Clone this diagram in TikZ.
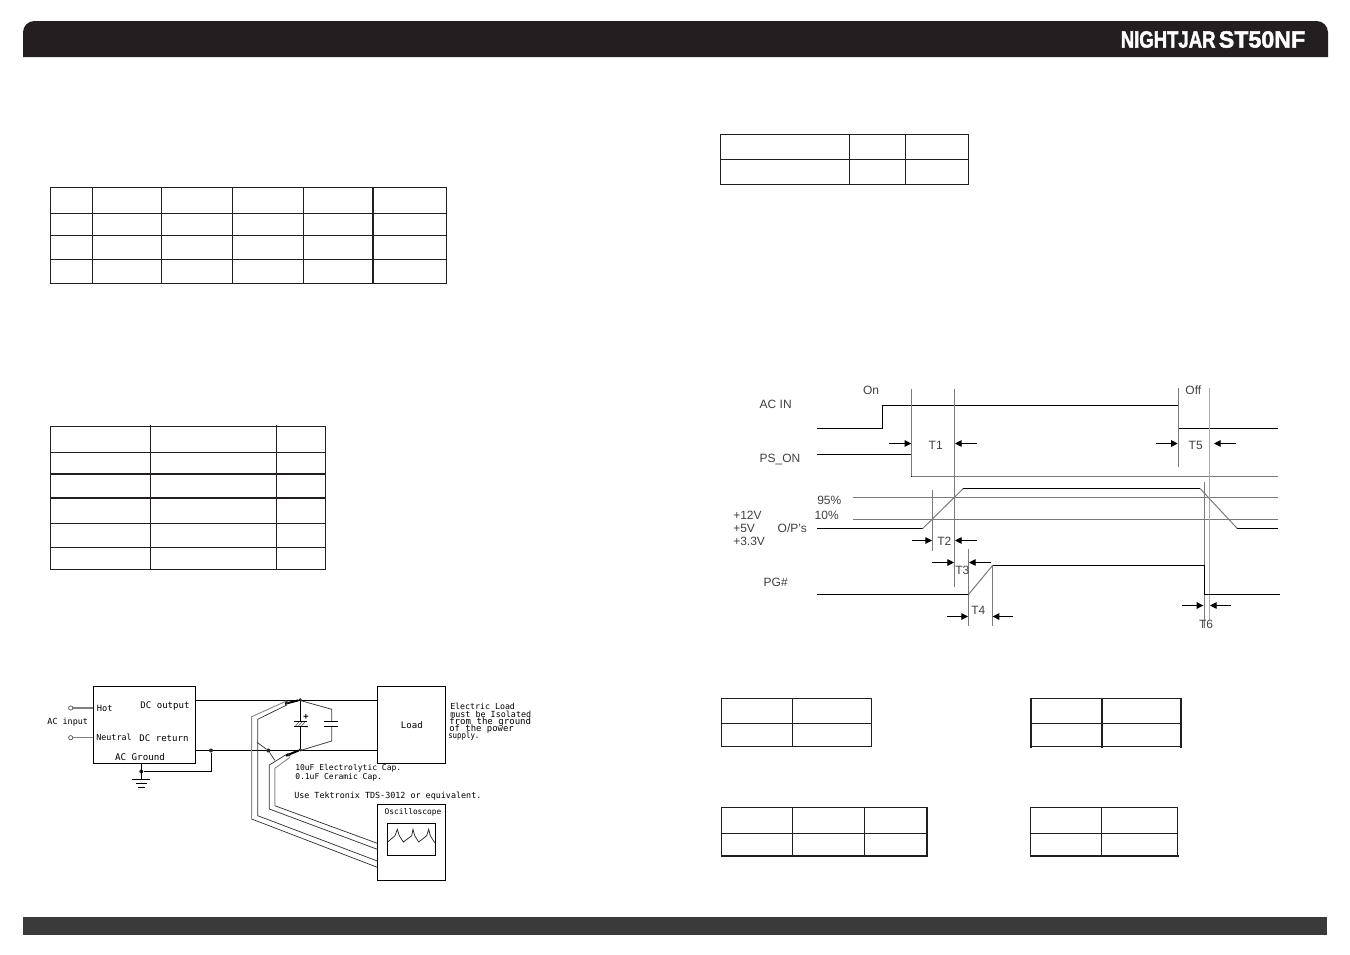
\documentclass[tikz,border=0pt]{standalone}
\usepackage{fontspec}
\setmainfont{Liberation Sans}
\newfontfamily\cadfont{DejaVu Sans Mono}
\newfontfamily\brandfont[BoldFeatures={FakeBold=2}]{Liberation Sans}
\usetikzlibrary{arrows.meta}
\definecolor{hdr}{HTML}{231F20}
\definecolor{ftr}{HTML}{3A3A3A}
\definecolor{grayline}{HTML}{7A7A7A}
\definecolor{lightline}{HTML}{ABABAB}
\newcommand{\cs}[1]{\cadfont\fontsize{#1}{7}\selectfont}
\tikzset{
  tbl/.style={draw=hdr,line width=0.9pt,line cap=rect},
  tblthick/.style={draw=hdr,line width=1.5pt,line cap=rect},
  cad/.style={font=\cs{6.3},inner sep=0pt,text=black},
  cadl/.style={cad,anchor=west},
  bx/.style={draw=black,line width=0.8pt,inner sep=0pt,anchor=north west},
  cw/.style={draw=black,line width=0.75pt},
  probe/.style={draw=black!80,line width=0.55pt},
  probeg/.style={draw=black!45,line width=0.7pt},
  dotn/.style={circle,fill=black!85,inner sep=0pt,minimum size=3pt},
  lbl/.style={font=\fontsize{9}{10}\selectfont,inner sep=0pt,text=black!75},
  sig/.style={draw=black,line width=0.9pt},
  sigg/.style={draw=grayline,line width=0.75pt},
  guide/.style={draw=grayline,line width=0.7pt},
  guidel/.style={draw=lightline,line width=0.8pt},
  tarrow/.style={draw=black,line width=0.7pt,-{Triangle[length=5pt,width=5pt]}},
  brand/.style={font=\brandfont\bfseries\fontsize{17.6}{18}\selectfont,text=white,inner sep=0pt}
}
\begin{document}
\begin{tikzpicture}[x=0.75pt,y=-0.75pt]
\useasboundingbox[fill=white] (0,0) rectangle (1350,954);
% header / footer
\fill[hdr] (23,57) [rounded corners=8.5pt] -- (23,21) -- (1328,21) [sharp corners] -- (1328,57) -- cycle;
\fill[ftr] (23,917) rectangle (1327,935);
\node[brand,anchor=west] (brandA) at (1120.5,39.5) {\scalebox{.79}[1]{NIGHTJAR}};
\node[brand,anchor=east] (brandB) at (1305.5,39.5) {\scalebox{.99}[1]{ST50NF}};
% table 1
\draw[tbl] (50.5,187.5) rectangle (446.5,283.5);
\foreach \x in {92.5,161.5,232.5,303.5} \draw[tbl] (\x,187.5) -- (\x,283.5);
\foreach \y in {213.5,235.5,259.5} \draw[tbl] (50.5,\y) -- (446.5,\y);
\draw[tblthick,line cap=butt] (373,187.5) -- (373,283.5);
% table 2
\draw[tbl] (50.5,426.5) rectangle (325.5,569.5);
\foreach \x in {150.5,276.5} \draw[tbl] (\x,426) -- (\x,569.5);
\foreach \y in {452.5,523.5,547.5} \draw[tbl] (50.5,\y) -- (325.5,\y);
\foreach \y in {474,498} \draw[tblthick,line cap=butt] (50.5,\y) -- (325.5,\y);
% table 3
\draw[tbl] (720.5,134.5) rectangle (968.5,184.5);
\foreach \x in {849.5,905.5} \draw[tbl] (\x,134.5) -- (\x,184.5);
\draw[tbl] (720.5,159.5) -- (968.5,159.5);
% table 4
\draw[tbl] (721.5,698.5) rectangle (871.5,746.5);
\draw[tbl] (792.5,698.5) -- (792.5,746.5);
\draw[tbl] (721.5,723.5) -- (871.5,723.5);
% table 5
\draw[tbl] (721.5,807.5) -- (927,807.5);
\draw[tbl] (721.5,807.5) -- (721.5,855.5);
\foreach \x in {792.5,864.5} \draw[tbl] (\x,807.5) -- (\x,855.5);
\draw[tbl] (721.5,833.5) -- (927,833.5);
\draw[tblthick] (721.5,856) -- (927,856);
\draw[tblthick] (927,807.5) -- (927,856);
% table 6
\draw[tbl] (1031,698.5) -- (1181,698.5);
\draw[tbl] (1031,723.5) -- (1181,723.5);
\draw[tbl] (1031,746.5) -- (1181,746.5);
\draw[tblthick] (1031,698.5) -- (1031,746.5);
\draw[tblthick] (1102,698.5) -- (1102,746.5);
\draw[tblthick] (1181,698.5) -- (1181,746.5);
% table 7
\draw[tbl] (1030.5,807.5) -- (1177.5,807.5);
\draw[tbl] (1030.5,807.5) -- (1030.5,855.5);
\draw[tbl] (1101.5,807.5) -- (1101.5,855.5);
\draw[tbl] (1177.5,807.5) -- (1177.5,855.5);
\draw[tbl] (1030.5,833.5) -- (1177.5,833.5);
\draw[tblthick] (1030.5,856) -- (1177.5,856);

% ===== circuit =====
\node[bx,minimum width=76pt,minimum height=57.8pt] (psu) at (93.3,686.3) {};
\node[bx,minimum width=51pt,minimum height=57.8pt] (load) at (377.3,686.3) {};
\node[cad,font=\cs{6.8}] at (load.center) {Load};
\node[bx,minimum width=51pt,minimum height=57.2pt] (osc) at (377.3,803.7) {};
\node[bx,minimum width=35.5pt,minimum height=24.4pt] (screen) at (387.3,822.7) {};
\node[cad,font=\cs{5.9}] (osctxt) at (413,812.5) {Oscilloscope};
\draw[black!85,line width=.55pt] (screen.west |- 0,842.3) -- (395,835.7) -- (397.3,829.3) -- (399.3,835.7) -- (403.3,842) -- (411.7,835.7) -- (413,829.3) -- (414.7,835.7) -- (418.7,842) -- (426.7,835.7) -- (428.7,829.3) -- (430.3,835.7) -- (434.7,842.7);
% AC side
\node[circle,draw=black!70,line width=.5pt,inner sep=0pt,minimum size=3.2pt] (hot) at (70.7,708) {};
\node[circle,draw=black!70,line width=.5pt,inner sep=0pt,minimum size=3.2pt] (neu) at (70.7,737.7) {};
\draw[draw=black!50,line width=.8pt] (hot) -- (hot -| psu.west);
\draw[draw=black!50,line width=.8pt] (neu) -- (neu -| psu.west);
\node[cad] at (67.7,721.7) {AC input};
\node[cad,font=\cs{6.5}] at (104.7,708.5) {Hot};
\node[cad,font=\cs{6.8}] at (165,706) {DC output};
\node[cad] at (114,737.7) {Neutral};
\node[cad,font=\cs{6.8}] at (164,737.7) {DC return};
\node[cad,font=\cs{6.9}] at (140,757) {AC Ground};
% DC wires
\coordinate (dotTop) at (300.3,700.5);
\coordinate (dotBot) at (300.3,750.5);
\coordinate (psuOut) at (psu.east |- dotTop);
\coordinate (psuRet) at (psu.east |- dotBot);
\draw[cw] (psuOut) -- (dotTop -| load.west);
\draw[cw] (psuRet) -- (dotBot -| load.west);
\node[dotn] (d1) at (211,750.5) {};
\node[dotn] (d2) at (141.3,771.5) {};
\draw[cw] (d1) -- (211,771.5) -- (d2);
\coordinate (gnd) at (141.3,779.5);
\draw[cw] (psu.south -| d2) -- (gnd);
\draw[cw] (132,779.5) -- (150,779.5);
\draw[cw] (136.3,783.5) -- (146.7,783.5);
\draw[cw] (138.3,787.5) -- (145,787.5);
% capacitors
\draw[cw] (dotTop) -- (300.3,721.7);
\draw[cw] (300.3,726) -- (dotBot);
\draw[cw] (294,721.7) -- (306.7,721.7);
\draw[cw] (294,726) -- (306.7,726);
\foreach \a in {295.5,298.5,301.5} \draw[black!70,line width=.45pt] (\a,726) -- (\a+3.5,721.7);
\node[cad,font=\cadfont\bfseries\fontsize{6.5}{7}\selectfont] at (306,716.7) {+};
\node[cad,font=\cadfont\bfseries\fontsize{6.5}{7}\selectfont] at (306.7,728.3) {-};
\draw[draw=black!75,line width=.6pt] (dotTop) -- (331.7,709.3) -- (331.7,721.7);
\draw[draw=black!75,line width=.6pt] (331.7,726.7) -- (331.7,741) -- (dotBot);
\draw[cw] (324,721.7) -- (338.3,721.7);
\draw[cw] (324,726.7) -- (338.3,726.7);
\node[dotn,minimum size=2.6pt] (dt) at (300.3,699.8) {};
\node[dotn,minimum size=2.6pt] (db) at (300.3,749.8) {};
% probes
\coordinate (pa) at (286.7,700.9);
\coordinate (pb) at (286.7,705);
\coordinate (pc) at (288.3,753.3);
\coordinate (pd) at (290,757.3);
\draw[probeg] (pa) -- (251.7,716.7) -- (251.7,819);
\draw[probe] (251.7,819) -- (osc.west |- 0,867.3);
\draw[probe] (pb) -- (257.7,719.3) -- (257.7,815.7) -- (osc.west |- 0,861);
\draw[probe] (pc) -- (269.3,765) -- (269.3,809) -- (osc.west |- 0,849.3);
\draw[probeg] (pd) -- (274.8,768.3) -- (274.8,805.7);
\draw[probe] (274.8,805.7) -- (osc.west |- 0,843.3);
\draw[black,line width=1.5pt] (285,703.8) -- (dt);
\draw[black,line width=1.5pt] (286,755.7) -- (db);
\node[dotn,minimum size=2.6pt] at (286.7,702.6) {};
\node[dotn,minimum size=2.6pt] at (289,755) {};
\node[dotn] (gp) at (268.3,750.5) {};
\coordinate (gl) at (257,742.3);
\coordinate (gr) at (274.8,760.3);
\draw[probe] (gl) -- (gp) -- (gr);
% text notes
\node[cadl,font=\cs{6.2}] at (450,706.7) {Electric Load};
\node[cadl] at (450,714.3) {must be Isolated};
\node[cadl,font=\cs{6.8}] at (449,721.7) {from the ground};
\node[cadl,font=\cs{6.7}] at (449,729) {of the power};
\node[cadl] at (448,735.7) {\scalebox{.88}[1]{supply.}};
\node[cadl,font=\cs{6}] at (295,768.7) {10uF Electrolytic Cap.};
\node[cadl,font=\cs{6}] at (295,777.7) {0.1uF Ceramic Cap.};
\node[cadl] at (294,795.7) {Use Tektronix TDS-3012 or equivalent.};

% ===== timing =====
\draw[sig] (817,428.5) -- (882.5,428.5) -- (882.5,405.5) -- (1178.5,405.5) -- (1178.5,428.5) -- (1277.7,428.5);
\draw[sig] (817,454.5) -- (911.5,454.5) -- (911.5,476.5);
\draw[sigg] (911.5,476.5) -- (1278,476.5);
\draw[guide] (853.3,497.5) -- (1278,497.5);
\draw[guide] (853.3,519.5) -- (1278,519.5);
\coordinate (g1) at (911.5,389);
\coordinate (g1e) at (911.5,476);
\coordinate (g2) at (954.5,389);
\coordinate (g2e) at (954.5,586.7);
\coordinate (g3) at (932.5,490);
\coordinate (g3e) at (932.5,550.7);
\coordinate (g4) at (968.5,549);
\coordinate (g4e) at (968.5,625.7);
\coordinate (g5) at (992.5,565);
\coordinate (g5e) at (992.5,625.7);
\coordinate (g6) at (1178.5,387.7);
\coordinate (g6e) at (1178.5,466.7);
\coordinate (g7) at (1209.5,388);
\coordinate (g7e) at (1209.5,620);
\coordinate (g8) at (1204.5,482.3);
\coordinate (g8e) at (1204.5,628);
\foreach \p/\q in {g1/g1e,g2/g2e,g3/g3e,g4/g4e,g5/g5e,g6/g6e,g8/g8e} \draw[guide] (\p) -- (\q);
\draw[guidel] (g7) -- (g7e);
% O/P
\draw[sig] (817,528.5) -- (922.7,528.5);
\draw[sigg] (922.7,528.5) -- (963.3,488.5);
\draw[sig] (963.3,488.5) -- (1200,488.5);
\draw[sigg] (1200,488.5) -- (1237.3,528.5);
\draw[sig] (1237.3,528.5) -- (1277.7,528.5);
% PG
\draw[sig] (817,594.5) -- (968.5,594.5);
\draw[sigg] (968.5,594.5) -- (992.5,565.5);
\draw[sig] (992.5,565.5) -- (1204.5,565.5) -- (1204.5,594.5) -- (1280,594.5);
% labels
\node[lbl] at (775.7,404) {AC IN};
\node[lbl] at (871,390.7) {On};
\node[lbl] (t1) at (935.7,445) {T1};
\node[lbl] at (780,459) {PS\_ON};
\node[lbl] at (829.3,500) {95\%};
\node[lbl] at (826.7,515) {10\%};
\node[lbl,anchor=west] at (733,515) {+12V};
\node[lbl,anchor=west] at (733,528.3) {+5V};
\node[lbl,anchor=west] at (733,541.7) {+3.3V};
\node[lbl] at (792.3,528.3) {O/P's};
\node[lbl] (t2) at (944.3,541.7) {T2};
\node[lbl] (t3) at (962.3,570) {T3};
\node[lbl] at (775.7,582.3) {PG\#};
\node[lbl] (t4) at (978.3,610.7) {T4};
\node[lbl] at (1193.3,390) {Off};
\node[lbl] (t5) at (1195.7,445) {T5};
\node[lbl] (t6) at (1206,624.3) {T6};
% arrows
\coordinate (a1l) at (889,443.5);   \coordinate (a1lt) at (911.2,443.5);
\coordinate (a1r) at (976.7,443.5); \coordinate (a1rt) at (955,443.5);
\coordinate (a2l) at (911.7,540.5); \coordinate (a2lt) at (932,540.5);
\coordinate (a2r) at (976.7,540.5); \coordinate (a2rt) at (955,540.5);
\coordinate (a3l) at (932.3,562.5); \coordinate (a3lt) at (954,562.5);
\coordinate (a3r) at (991,562.5);   \coordinate (a3rt) at (969,562.5);
\coordinate (a4l) at (947.3,616.5); \coordinate (a4lt) at (968,616.5);
\coordinate (a4r) at (1013.3,616.5);\coordinate (a4rt) at (992.7,616.5);
\coordinate (a5l) at (1155.7,443.5);\coordinate (a5lt) at (1177.7,443.5);
\coordinate (a5r) at (1235.7,443.5);\coordinate (a5rt) at (1214,443.5);
\coordinate (a6l) at (1182.3,605.5);\coordinate (a6lt) at (1203.3,605.5);
\coordinate (a6r) at (1230.7,605.5);\coordinate (a6rt) at (1210,605.5);
\foreach \n in {1,...,6} {
  \draw[tarrow] (a\n l) -- (a\n lt);
  \draw[tarrow] (a\n r) -- (a\n rt);
}
\end{tikzpicture}
\end{document}
